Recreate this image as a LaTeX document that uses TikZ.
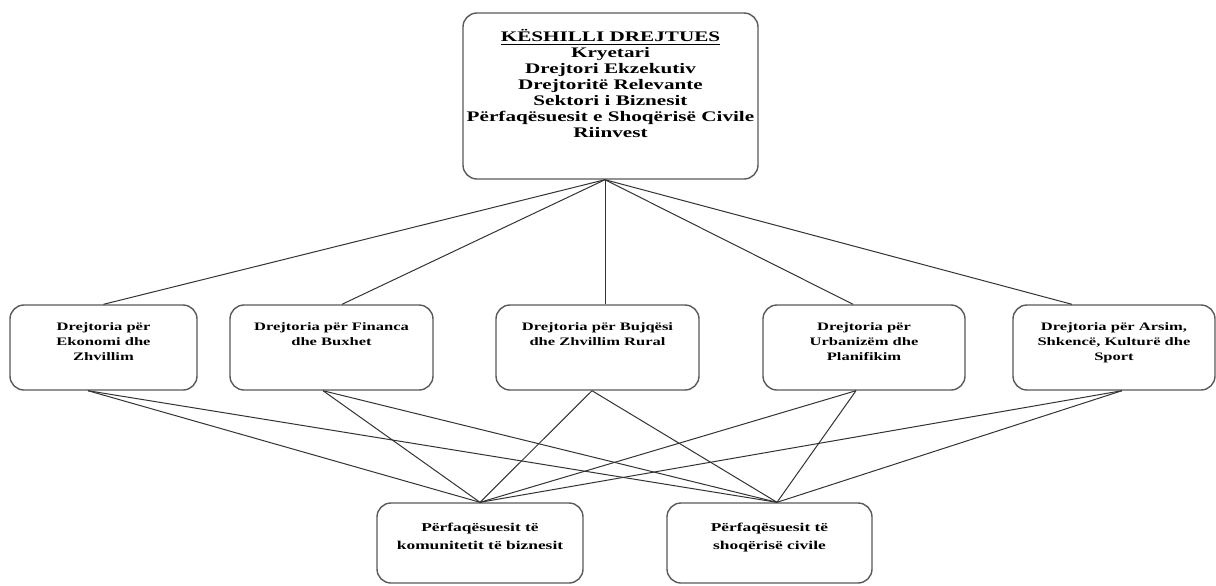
\documentclass[tikz,border=0pt]{standalone}
\usepackage{fontspec}
\setmainfont[FakeStretch=1.45]{Liberation Serif}
\usetikzlibrary{positioning}
\newcommand{\boxtext}[4]{\parbox[c][#2][t]{#1}{\centering\vspace*{#3}#4\par}}

\begin{document}
\begin{tikzpicture}[x=0.5pt, y=-0.5pt]
		\tikzstyle{box}=[rectangle, rounded corners=7pt, draw=black!65, line width=0.7pt, inner sep=0pt, font=\bfseries]
		\tikzstyle{connect}=[draw=black!80, line width=0.5pt]
		\tikzstyle{topfont}=[font=\bfseries\fontsize{7.3}{8}\selectfont]
		\tikzstyle{dirfont}=[font=\bfseries\fontsize{5.7}{7.5}\selectfont]
		\tikzstyle{repfont}=[font=\bfseries\fontsize{6}{9}\selectfont]
		\useasboundingbox (0,0) rectangle (1216,585);

		% keshilli
		\node[box, topfont] (kd) at (610.5,96) {\boxtext{147.5pt}{83pt}{8pt}{\underline{KËSHILLI DREJTUES}\\ Kryetari\\ Drejtori Ekzekutiv\\ Drejtoritë Relevante\\ Sektori i Biznesit\\ Përfaqësuesit e Shoqërisë Civile\\ Riinvest}};

		% drejtorite
		\node[box, dirfont] (d1) at (103.5,347.5) {\boxtext{93.5pt}{42.5pt}{8.8pt}{Drejtoria për\\ Ekonomi dhe\\ Zhvillim}};
		\node[box, dirfont] (d2) at (331.5,347.5) {\boxtext{101.5pt}{42.5pt}{8.8pt}{Drejtoria për Financa\\ dhe Buxhet}};
		\node[box, dirfont] (d3) at (597.5,347.5) {\boxtext{101.5pt}{42.5pt}{8.8pt}{Drejtoria për Bujqësi\\ dhe Zhvillim Rural}};
		\node[box, dirfont] (d4) at (864,347.5) {\boxtext{101pt}{42.5pt}{8.8pt}{Drejtoria për\\ Urbanizëm dhe\\ Planifikim}};
		\node[box, dirfont] (d5) at (1114,347.5) {\boxtext{101pt}{42.5pt}{8.8pt}{Drejtoria për Arsim,\\ Shkencë, Kulturë dhe\\ Sport}};

		% perfaqesuesit
		\node[box, repfont] (pb) at (480,543) {\boxtext{103pt}{40pt}{10pt}{Përfaqësuesit të\\ komunitetit të biznesit}};
		\node[box, repfont] (ps) at (769.5,543) {\boxtext{102.5pt}{40pt}{10pt}{Përfaqësuesit të\\ shoqërisë civile}};

		\foreach \d/\o in {d1/0, d2/10.5, d3/7.5, d4/-11, d5/-42}
			\draw[connect] ([shift={(-5.5,0)}]kd.south) -- ([shift={(\o,0)}]\d.north);

		\foreach \d/\o in {d1/-15.5, d2/-8.5, d3/-5.5, d4/-8, d5/8} {
			\draw[connect] ([shift={(\o,0)}]\d.south) -- (pb.north);
			\draw[connect] ([shift={(\o,0)}]\d.south) -- ([shift={(7.5,0)}]ps.north);
		}
\end{tikzpicture}
\end{document}
